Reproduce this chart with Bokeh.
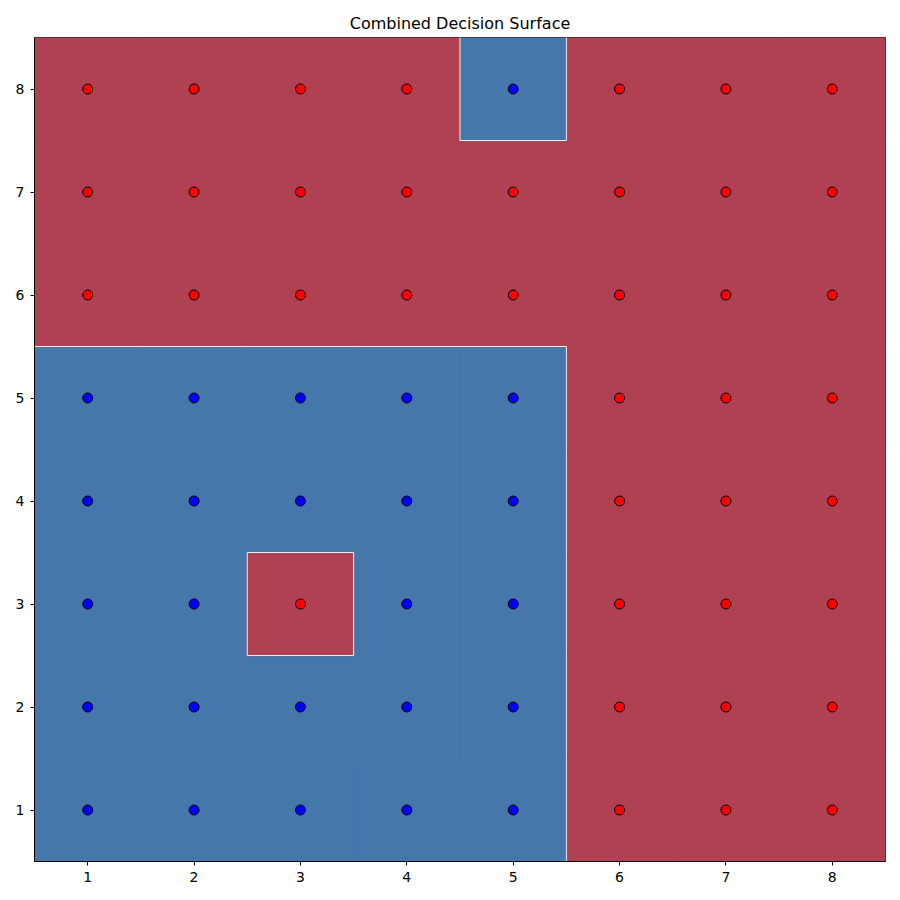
from bokeh.plotting import figure
from bokeh.models import Range1d, FixedTicker
from bokeh.embed import file_html
from bokeh.resources import INLINE

# Grid coordinates
xs_vals = [1, 2, 3, 4, 5, 6, 7, 8]
ys_vals = [1, 2, 3, 4, 5, 6, 7, 8]

# Class labels of the training points, rows from y=1 (bottom) to y=8 (top); 0 = blue, 1 = red
labels = [
    [0, 0, 0, 0, 0, 1, 1, 1],  # y=1
    [0, 0, 0, 0, 0, 1, 1, 1],  # y=2
    [0, 0, 1, 0, 0, 1, 1, 1],  # y=3
    [0, 0, 0, 0, 0, 1, 1, 1],  # y=4
    [0, 0, 0, 0, 0, 1, 1, 1],  # y=5
    [1, 1, 1, 1, 1, 1, 1, 1],  # y=6
    [1, 1, 1, 1, 1, 1, 1, 1],  # y=7
    [1, 1, 1, 1, 0, 1, 1, 1],  # y=8
]

# Decision surface prediction per grid cell (same layout)
surface = [
    [0, 0, 0, 0, 0, 1, 1, 1],
    [0, 0, 0, 0, 0, 1, 1, 1],
    [0, 0, 1, 0, 0, 1, 1, 1],
    [0, 0, 0, 0, 0, 1, 1, 1],
    [0, 0, 0, 0, 0, 1, 1, 1],
    [1, 1, 1, 1, 1, 1, 1, 1],
    [1, 1, 1, 1, 1, 1, 1, 1],
    [1, 1, 1, 1, 0, 1, 1, 1],
]

surface_colors = {0: "#4677aa", 1: "#b04152"}
point_colors = {0: "#0000ff", 1: "#ff0000"}

p = figure(width=900, height=900, output_backend="svg", toolbar_location=None,
           x_range=Range1d(0.5, 8.5), y_range=Range1d(0.5, 8.5),
           min_border_left=34, min_border_right=15, min_border_top=37, min_border_bottom=39,
           title="Combined Decision Surface")
p.title.align = "center"
p.title.text_font = "DejaVu Sans"
p.title.text_font_size = "16px"
p.title.text_font_style = "normal"
p.title.text_color = "#000000"

# surface cells
l, r, b, t, c = [], [], [], [], []
for j, y in enumerate(ys_vals):
    for i, x in enumerate(xs_vals):
        l.append(x - 0.5); r.append(x + 0.5); b.append(y - 0.5); t.append(y + 0.5)
        c.append(surface_colors[surface[j][i]])
p.quad(left=l, right=r, bottom=b, top=t, fill_color=c, line_color=c, line_width=1.5)

# boundary lines between differing cells
bx, by = [], []
n = len(xs_vals)
for j in range(n):
    for i in range(n):
        if i + 1 < n and surface[j][i] != surface[j][i + 1]:
            xb = (xs_vals[i] + xs_vals[i + 1]) / 2
            bx.append([xb, xb]); by.append([ys_vals[j] - 0.5, ys_vals[j] + 0.5])
        if j + 1 < n and surface[j][i] != surface[j + 1][i]:
            yb = (ys_vals[j] + ys_vals[j + 1]) / 2
            bx.append([xs_vals[i] - 0.5, xs_vals[i] + 0.5]); by.append([yb, yb])
p.multi_line(bx, by, line_color="#f0f0f0", line_width=1)

# points
px, py, pc = [], [], []
for j, y in enumerate(ys_vals):
    for i, x in enumerate(xs_vals):
        px.append(x); py.append(y); pc.append(point_colors[labels[j][i]])
p.scatter(px, py, size=10, fill_color=pc, line_color="black", line_width=1)

p.xgrid.visible = False
p.ygrid.visible = False
p.outline_line_color = "black"
p.outline_line_width = 1
p.outline_line_alpha = 1
for ax in (p.xaxis, p.yaxis):
    ax.ticker = FixedTicker(ticks=xs_vals)
    ax.major_label_text_font = "DejaVu Sans"
    ax.major_label_text_font_size = "14px"
    ax.major_label_text_color = "black"
    ax.major_tick_out = 4
    ax.major_tick_in = 0
    ax.minor_tick_out = 0
    ax.minor_tick_in = 0
    ax.axis_line_color = "black"
    ax.major_tick_line_color = "black"
    ax.major_label_standoff = 6

open("out.html", "w").write(file_html(p, INLINE))
